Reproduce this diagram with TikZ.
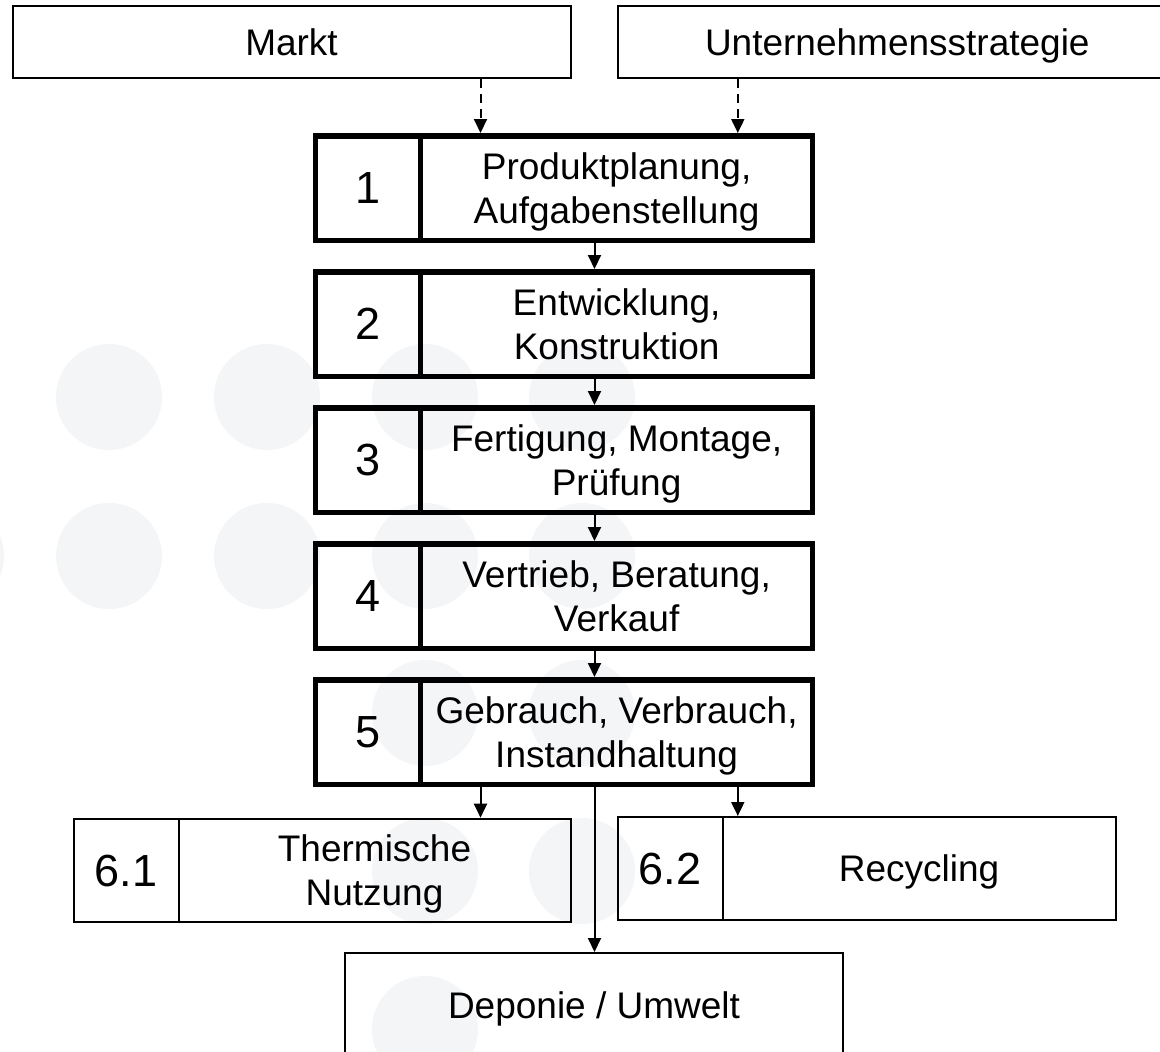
\documentclass[tikz,border=0pt]{standalone}
\usepackage{fontspec}
\setmainfont{Liberation Sans}
\usetikzlibrary{arrows.meta}
\definecolor{dotgray}{RGB}{244,245,247}

\begin{document}
\begin{tikzpicture}[x=1pt,y=-1pt,
  thinbox/.style={draw, line width=2pt, inner sep=0pt, align=center,
    text depth=0pt, font=\fontsize{37}{44}\selectfont},
  thickbox/.style={draw, line width=5.5pt, inner sep=0pt, align=center,
    text depth=0pt, font=\fontsize{37}{44}\selectfont, minimum height=104.5pt},
  numcell/.style={minimum width=105pt, font=\fontsize{45}{50}\selectfont},
  textcell/.style={minimum width=392.25pt},
  bignum/.style={font=\fontsize{45}{50}\selectfont},
  flow/.style={line width=2pt, -{Triangle[length=14pt,width=13pt]}},
  hint/.style={flow, dash pattern=on 9pt off 6pt}
]
\useasboundingbox (0,0) rectangle (1160,1052);
\clip (0,0) rectangle (1160,1052);
\fill[white] (0,0) rectangle (1160,1052);

% decorative dot grid in the background
\foreach \cx/\cy in {109/397, 267/397, 425/397, 582/397,
                     -49/556, 109/556, 267/556, 425/556, 582/556,
                     425/713, 582/713, 425/871, 582/871, 425/1029}
  \fill[dotgray] (\cx,\cy) circle[radius=53];

% inputs
\node[thinbox, minimum width=558pt, minimum height=72pt] (markt) at (291.5,42) {Markt};
\node[thinbox, minimum width=559.4pt, minimum height=72pt] (strat) at (897.3,42) {Unternehmensstrategie};

% product life cycle phases
\node[thickbox, numcell] (n1) at (367.97,188) {1};
\node[thickbox, textcell] (t1) at (616.6,188) {Produktplanung,\\Aufgabenstellung};
\node[thickbox, numcell] (n2) at (367.97,324) {2};
\node[thickbox, textcell] (t2) at (616.6,324) {Entwicklung,\\Konstruktion};
\node[thickbox, numcell] (n3) at (367.97,460) {3};
\node[thickbox, textcell] (t3) at (616.6,460) {Fertigung, Montage,\\Prüfung};
\node[thickbox, numcell] (n4) at (367.97,596) {4};
\node[thickbox, textcell] (t4) at (616.6,596) {Vertrieb, Beratung,\\Verkauf};
\node[thickbox, numcell] (n5) at (367.97,732) {5};
\node[thickbox, textcell] (t5) at (616.6,732) {Gebrauch, Verbrauch,\\Instandhaltung};

% end of life
\node[thinbox, bignum, minimum width=104.9pt, minimum height=103.3pt] (n61) at (126.05,870.35) {6.1};
\node[thinbox, minimum width=392pt, minimum height=103.3pt] (t61) at (374.5,870.35) {Thermische\\Nutzung};
\node[thinbox, bignum, minimum width=104.9pt, minimum height=103pt] (n62) at (670.05,868.5) {6.2};
\node[thinbox, minimum width=393pt, minimum height=103pt] (t62) at (919,868.5) {Recycling};
\node[thinbox, minimum width=498pt, minimum height=104pt, anchor=north] (dep) at (594,952) {Deponie / Umwelt};

% connector columns
\coordinate (xa) at (480.5,0);
\coordinate (xb) at (737.8,0);
\coordinate (xc) at (594.5,0);

\draw[hint] (markt.south -| xa) -- (t1.north -| xa);
\draw[hint] (strat.south -| xb) -- (t1.north -| xb);
\foreach \a/\b in {t1/t2, t2/t3, t3/t4, t4/t5}
  \draw[flow] (\a.south -| xc) -- (\b.north -| xc);
\draw[flow] (t5.south -| xa) -- (t61.north -| xa);
\draw[flow] (t5.south -| xb) -- (t62.north -| xb);
\draw[flow] (t5.south -| xc) -- (dep.north -| xc);
\end{tikzpicture}
\end{document}
